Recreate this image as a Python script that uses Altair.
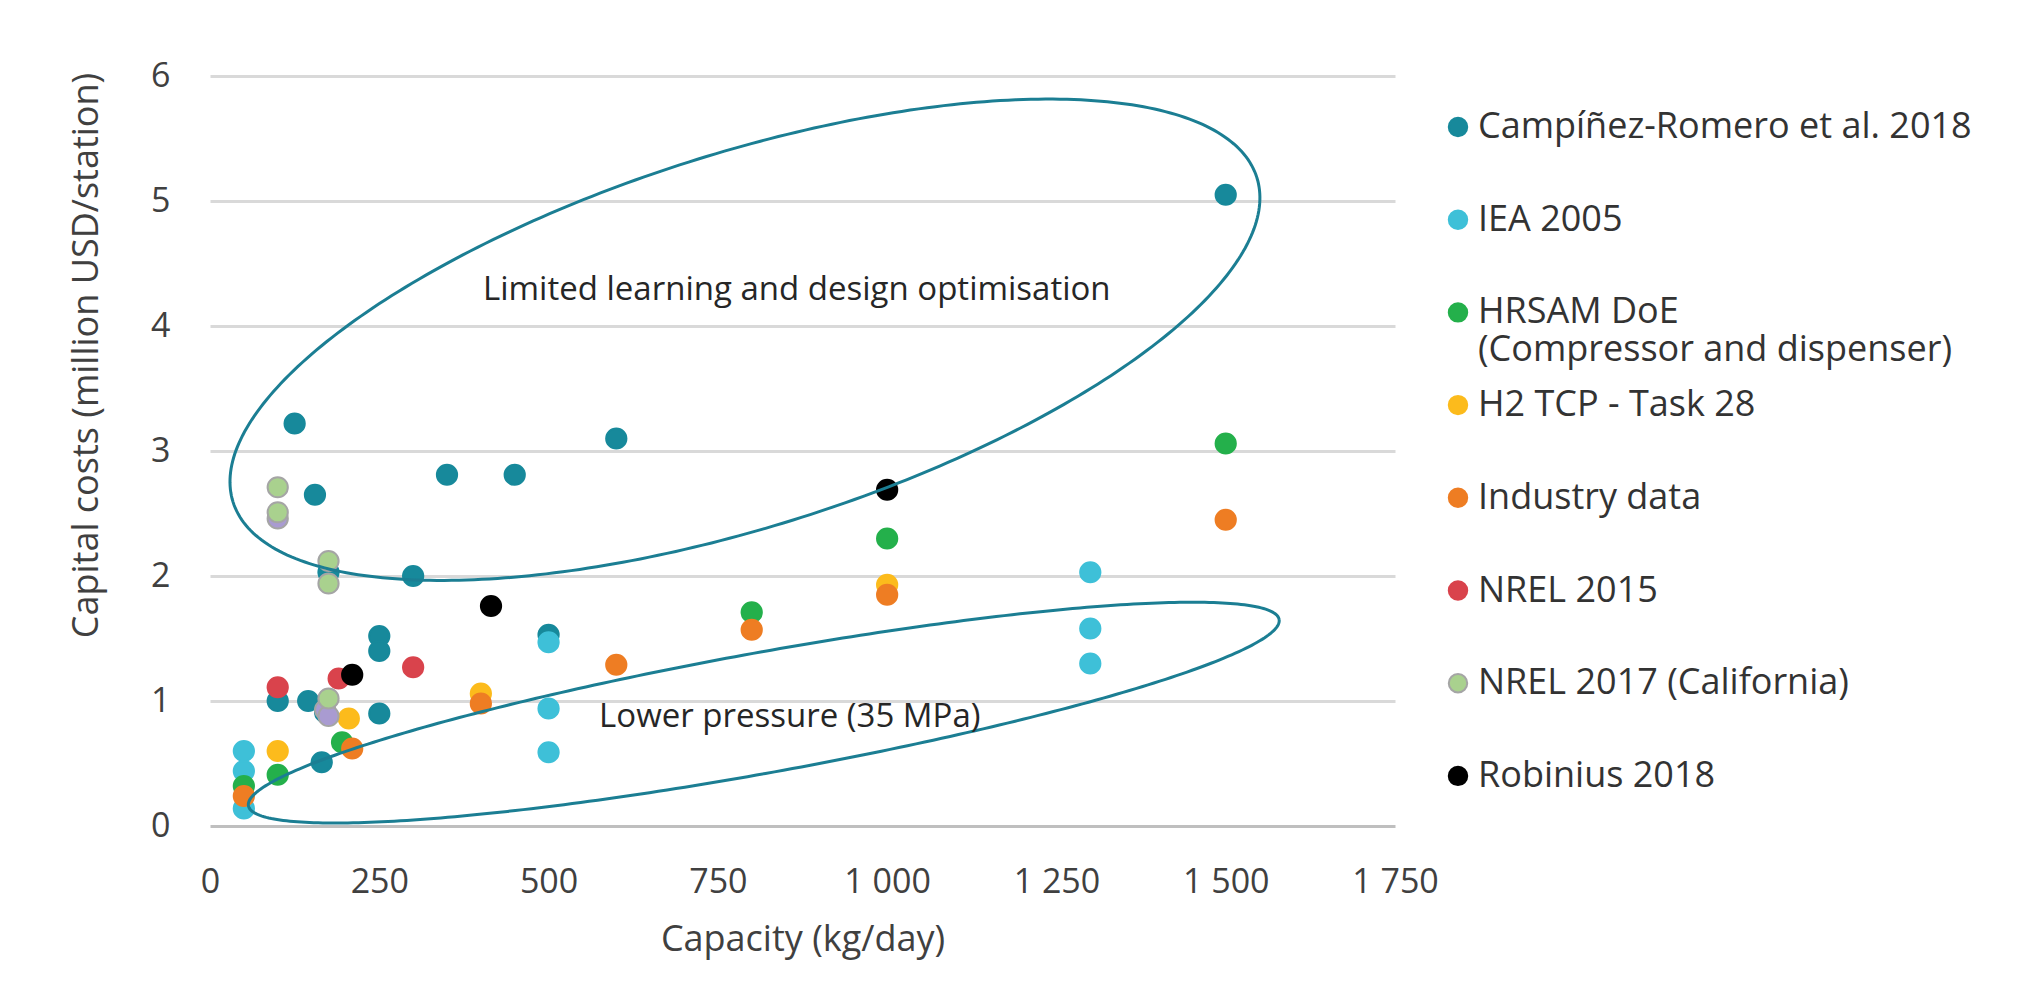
import numpy as np
import pandas as pd
import altair as alt

# ---------------- data ----------------
series = [
    "Campíñez-Romero et al. 2018",
    "IEA 2005",
    "HRSAM DoE|(Compressor and dispenser)",
    "H2 TCP - Task 28",
    "Industry data",
    "NREL 2015",
    "NREL 2017 (California)",
    "Robinius 2018",
]
fill_colors = ["#17899b", "#3ec0d8", "#24b04b", "#fcbb1c", "#ee7d23", "#d9434c", "#a9d18e", "#000000"]
stroke_colors = ["#17899b", "#3ec0d8", "#24b04b", "#fcbb1c", "#ee7d23", "#d9434c", "#a5a5a5", "#000000"]

campinez_x = [125, 155, 350, 450, 600, 300, 175, 100, 145, 170, 165, 250, 250, 250, 500, 1500]
campinez_y = [3.22, 2.65, 2.81, 2.81, 3.10, 2.00, 2.03, 1.00, 1.00, 0.91, 0.51, 1.52, 1.40, 0.90, 1.53, 5.05]
iea_x = [50, 50, 50, 500, 500, 500, 1300, 1300, 1300]
iea_y = [0.60, 0.44, 0.14, 1.47, 0.94, 0.59, 2.03, 1.58, 1.30]
hrsam_x = [50, 100, 195, 800, 1000, 1500]
hrsam_y = [0.32, 0.41, 0.67, 1.71, 2.30, 3.06]
h2tcp_x = [100, 205, 400, 1000]
h2tcp_y = [0.60, 0.86, 1.06, 1.93]
industry_x = [50, 210, 400, 600, 800, 1000, 1500]
industry_y = [0.24, 0.62, 0.98, 1.29, 1.57, 1.85, 2.45]
nrel15_x = [100, 190, 300]
nrel15_y = [1.11, 1.18, 1.27]
nrel17_x = [100, 100, 175, 175, 175]
nrel17_y = [2.71, 2.51, 2.12, 1.94, 1.02]
robinius_x = [210, 415, 1000]
robinius_y = [1.21, 1.76, 2.69]
# unlabelled lavender markers hidden behind the NREL 2017 markers
other_x = [100, 170, 175]
other_y = [2.46, 0.93, 0.88]

xs = [campinez_x, iea_x, hrsam_x, h2tcp_x, industry_x, nrel15_x, nrel17_x, robinius_x]
ys = [campinez_y, iea_y, hrsam_y, h2tcp_y, industry_y, nrel15_y, nrel17_y, robinius_y]

rows = []
for i, (name, sx, sy) in enumerate(zip(series, xs, ys)):
    for a, b in zip(sx, sy):
        rows.append({"series": name, "idx": i, "cap": a, "cost": b})
points = pd.DataFrame(rows)
others = pd.DataFrame({"cap": other_x, "cost": other_y})

# annotation ellipses: centre (data units), semi-axes (px), tilt (deg)
W, H = 1185, 750
X_MAX, Y_MAX = 1750, 6
ellipses = [
    {"name": "upper", "cx": 790.0, "cy": 3.89, "a": 537.0, "b": 186.4, "deg": 17.6},
    {"name": "lower", "cx": 817.8, "cy": 0.907, "a": 523.7, "b": 60.2, "deg": 10.25},
]
erows = []
t = np.linspace(0, 2 * np.pi, 361)
for e in ellipses:
    th = np.radians(e["deg"])
    dx = e["a"] * np.cos(t) * np.cos(th) - e["b"] * np.sin(t) * np.sin(th)
    dy = e["a"] * np.cos(t) * np.sin(th) + e["b"] * np.sin(t) * np.cos(th)
    for k in range(len(t)):
        erows.append({"name": e["name"], "k": k,
                      "cap": e["cx"] + dx[k] * X_MAX / W,
                      "cost": e["cy"] + dy[k] * Y_MAX / H})
edf = pd.DataFrame(erows)

notes = pd.DataFrame({
    "cap": [866.6, 856.2],
    "cost": [4.29, 0.875],
    "text": ["Limited learning and design optimisation", "Lower pressure (35 MPa)"],
})

FONT = "Open Sans"
x_scale = alt.Scale(domain=[0, 1750], nice=False)
y_scale = alt.Scale(domain=[0, 6], nice=False)

x_axis = alt.Axis(
    title="Capacity (kg/day)", values=[0, 250, 500, 750, 1000, 1250, 1500, 1750],
    labelExpr="datum.value >= 1000 ? format(floor(datum.value/1000),'d') + ' ' + format(datum.value % 1000,'03d') : format(datum.value,'d')",
    grid=False, ticks=False, domain=False, labelFlush=False,
    labelFont=FONT, labelFontSize=34, labelColor="#404040", labelPadding=39,
    titleFont=FONT, titleFontSize=36, titleFontWeight="normal", titleColor="#404040",
    titleY=96, titleBaseline="top",
)
y_axis = alt.Axis(
    title="Capital costs (million USD/station)", values=[0, 1, 2, 3, 4, 5, 6], format="d",
    grid=True, gridWidth=3,
    gridColor={"condition": {"test": "datum.value === 0", "value": "#bfbfbf"}, "value": "#d9d9d9"},
    ticks=False, domain=False, labelFlush=False,
    labelFont=FONT, labelFontSize=34, labelColor="#404040", labelPadding=40,
    titleFont=FONT, titleFontSize=36, titleFontWeight="normal", titleColor="#404040",
    titleX=-124, titleY=279, titleBaseline="middle", titleAlign="center", titleAngle=-90,
)

legend = alt.Legend(
    title=None, orient="none", legendX=1230, legendY=33,
    labelFont=FONT, labelFontSize=36, labelColor="#333333", labelLimit=0,
    labelExpr="indexof(datum.label, '|') >= 0 ? split(datum.label, '|') : [datum.label, '']",
    symbolType="circle", symbolSize=340, symbolStrokeWidth=2,
    labelOffset=2, rowPadding=18.7, gridAlign="all", padding=0,
)

fill_scale = alt.Scale(domain=series, range=fill_colors)
stroke_scale = alt.Scale(domain=series, range=stroke_colors)

base_pts = alt.Chart(points).mark_circle(size=410, opacity=1, strokeWidth=2).encode(
    x=alt.X("cap:Q", scale=x_scale, axis=x_axis),
    y=alt.Y("cost:Q", scale=y_scale, axis=y_axis),
    fill=alt.Fill("series:N", scale=fill_scale, legend=legend, sort=series),
    stroke=alt.Stroke("series:N", scale=stroke_scale, legend=legend, sort=series),
    order=alt.Order("idx:Q"),
)
layer_a = base_pts.transform_filter("datum.idx < 6")
layer_c = base_pts.transform_filter("datum.idx >= 6")

layer_b = alt.Chart(others).mark_circle(size=410, opacity=1, fill="#a99bd1", stroke="#a5a5a5", strokeWidth=2).encode(
    x=alt.X("cap:Q", scale=x_scale),
    y=alt.Y("cost:Q", scale=y_scale),
)

rings = alt.Chart(edf).mark_line(color="#1b7e93", strokeWidth=3).encode(
    x=alt.X("cap:Q", scale=x_scale),
    y=alt.Y("cost:Q", scale=y_scale),
    detail="name:N",
    order="k:Q",
)

labels = alt.Chart(notes).mark_text(font=FONT, fontSize=33, color="#262626", align="center", baseline="middle").encode(
    x=alt.X("cap:Q", scale=x_scale),
    y=alt.Y("cost:Q", scale=y_scale),
    text="text:N",
)

chart = alt.layer(layer_a, layer_b, layer_c, rings, labels).properties(
    width=W, height=H,
    autosize=alt.AutoSizeParams(type="none"),
    padding={"left": 202, "top": 68, "right": 620, "bottom": 150},
    background="white",
).configure_view(stroke=None)

chart.save("out.html", embed_options={"renderer": "svg", "actions": False})
